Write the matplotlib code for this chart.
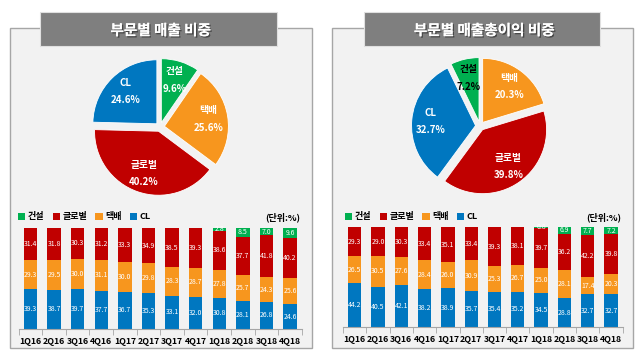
import matplotlib.pyplot as plt
import matplotlib.patches as mpatches
import matplotlib.patheffects as pe
import numpy as np

plt.rcParams['font.family'] = ['Noto Sans CJK KR', 'DejaVu Sans']

# 데이터
분기 = ['1Q16', '2Q16', '3Q16', '4Q16', '1Q17', '2Q17', '3Q17', '4Q17',
      '1Q18', '2Q18', '3Q18', '4Q18']
부문 = ['건설', '택배', '글로벌', 'CL']
색상 = {'건설': '#00B050', '택배': '#F7961E', '글로벌': '#C00000', 'CL': '#0077C0'}

# 매출 비중 (%)
매출_pie = [9.6, 25.6, 40.2, 24.6]
매출_CL = [39.3, 38.7, 39.7, 37.7, 36.7, 35.3, 33.1, 32.0, 30.8, 28.1, 26.8, 24.6]
매출_택배 = [29.3, 29.5, 30.0, 31.1, 30.0, 29.8, 28.3, 28.7, 27.8, 25.7, 24.3, 25.6]
매출_글로벌 = [31.4, 31.8, 30.3, 31.2, 33.3, 34.9, 38.5, 39.3, 38.6, 37.7, 41.8, 40.2]
매출_건설 = [0, 0, 0, 0, 0, 0, 0, 0, 2.8, 8.5, 7.0, 9.6]

# 매출총이익 비중 (%)
이익_pie = [7.2, 20.3, 39.8, 32.7]
이익_CL = [44.2, 40.5, 42.1, 38.2, 38.9, 35.7, 35.4, 35.2, 34.5, 28.8, 32.7, 32.7]
이익_택배 = [26.5, 30.5, 27.6, 28.4, 26.0, 30.9, 25.3, 26.7, 25.0, 28.1, 17.4, 20.3]
이익_글로벌 = [29.3, 29.0, 30.3, 33.4, 35.1, 33.4, 39.3, 38.1, 39.7, 36.2, 42.2, 39.8]
이익_건설 = [0, 0, 0, 0, 0, 0, 0, 0, 0.8, 6.9, 7.7, 7.2]

W, H = 639, 354
fig = plt.figure(figsize=(W / 100, H / 100), dpi=100)


def px_axes(x0, y0, x1, y1):
    # 픽셀 좌표(위에서 아래로)로 축 만들기
    return fig.add_axes([x0 / W, 1 - y1 / H, (x1 - x0) / W, (y1 - y0) / H])


# 배경 패널과 제목 상자
deco = px_axes(0, 0, W, H)
deco.set_xlim(0, W)
deco.set_ylim(H, 0)
deco.axis('off')
for (bx0, bx1, hx0, hx1, title) in [(10, 312, 40, 277, '부문별 매출 비중'),
                                     (332, 633, 364, 600, '부문별 매출총이익 비중')]:
    deco.add_patch(mpatches.Rectangle((bx0, 28), bx1 - bx0, 320, facecolor='#F2F2F2',
                                      edgecolor='#A6A6A6', linewidth=1))
    deco.add_patch(mpatches.Rectangle((hx0, 12), hx1 - hx0, 34, facecolor='#7F7F7F',
                                      edgecolor='#E0E0E0', linewidth=0.8))
    deco.text((hx0 + hx1) / 2 + 2, 30, title, color='white', fontsize=10.5,
              fontweight='bold', ha='center', va='center',
              path_effects=[pe.withSimplePatchShadow(offset=(1, -1), shadow_rgbFace='#303030',
                                                     alpha=0.7), pe.Normal()])


def draw_pie(cx, cy, values, start, dark_first=False):
    r = 64
    ax = px_axes(cx - 1.25 * r, cy - 1.25 * r, cx + 1.25 * r, cy + 1.25 * r)
    labels = [f'{n}\n{v}%' for n, v in zip(부문, values)]
    wedges, texts = ax.pie(values, labels=labels, colors=[색상[n] for n in 부문],
                           startangle=start, counterclock=False,
                           explode=[0.07] * 4, labeldistance=0.7,
                           wedgeprops=dict(edgecolor='white', linewidth=0.6),
                           textprops=dict(color='white', fontsize=7, fontweight='bold',
                                          ha='center', va='center', linespacing=1.9))
    if dark_first:
        texts[0].set_color('black')
    ax.set_xlim(-1.25, 1.25)
    ax.set_ylim(-1.25, 1.25)


draw_pie(160, 127, 매출_pie, 90)
draw_pie(480, 126, 이익_pie, 90 + 이익_pie[0] * 3.6, dark_first=True)


def draw_bars(x0, x1, ytop, ybot, series, legend_x, unit_x):
    ax = px_axes(x0, ytop, x1, ybot)
    ax.set_facecolor('none')
    x = np.arange(len(분기))
    bottom = np.zeros(len(분기))
    handles = {}
    for name in ['CL', '택배', '글로벌', '건설']:
        vals = np.array(series[name])
        bars = ax.bar(x, vals, width=0.57, bottom=bottom, color=색상[name], label=name)
        handles[name] = bars
        ax.bar_label(bars, labels=[f'{v:.1f}' if v > 0 else '' for v in vals],
                     label_type='center', color='white', fontsize=5)
        bottom += vals
    ax.set_xlim(-0.5, len(분기) - 0.5)
    ax.set_ylim(0, 100)
    for s in ['top', 'left', 'right']:
        ax.spines[s].set_visible(False)
    ax.spines['bottom'].set_color('#A6A6A6')
    ax.set_yticks([])
    ax.set_xticks(x)
    ax.set_xticklabels(분기, fontsize=6.3, fontweight='bold')
    ax.set_xticks(np.arange(-0.5, len(분기), 1), minor=True)
    ax.tick_params(axis='x', which='major', length=0, pad=6)
    ax.tick_params(axis='x', which='minor', length=4, color='#A6A6A6')

    order = ['건설', '글로벌', '택배', 'CL']
    fig.legend([handles[n] for n in order], order, loc='center left',
               bbox_to_anchor=(legend_x / W, 1 - 217 / H), ncol=4, frameon=False,
               borderpad=0, borderaxespad=0, handlelength=0.8, handleheight=0.8,
               handletextpad=0.3, columnspacing=0.9,
               prop=dict(size=6.5, weight='bold'))
    fig.text(unit_x / W, 1 - 217 / H, '(단위:%)', fontsize=6.5, fontweight='bold',
             ha='right', va='center')


draw_bars(18.7, 301.8, 228, 329,
          {'CL': 매출_CL, '택배': 매출_택배, '글로벌': 매출_글로벌, '건설': 매출_건설}, 18, 300)
draw_bars(343, 622.7, 227, 327,
          {'CL': 이익_CL, '택배': 이익_택배, '글로벌': 이익_글로벌, '건설': 이익_건설}, 345, 621)

fig.savefig('out.png', dpi=100)
